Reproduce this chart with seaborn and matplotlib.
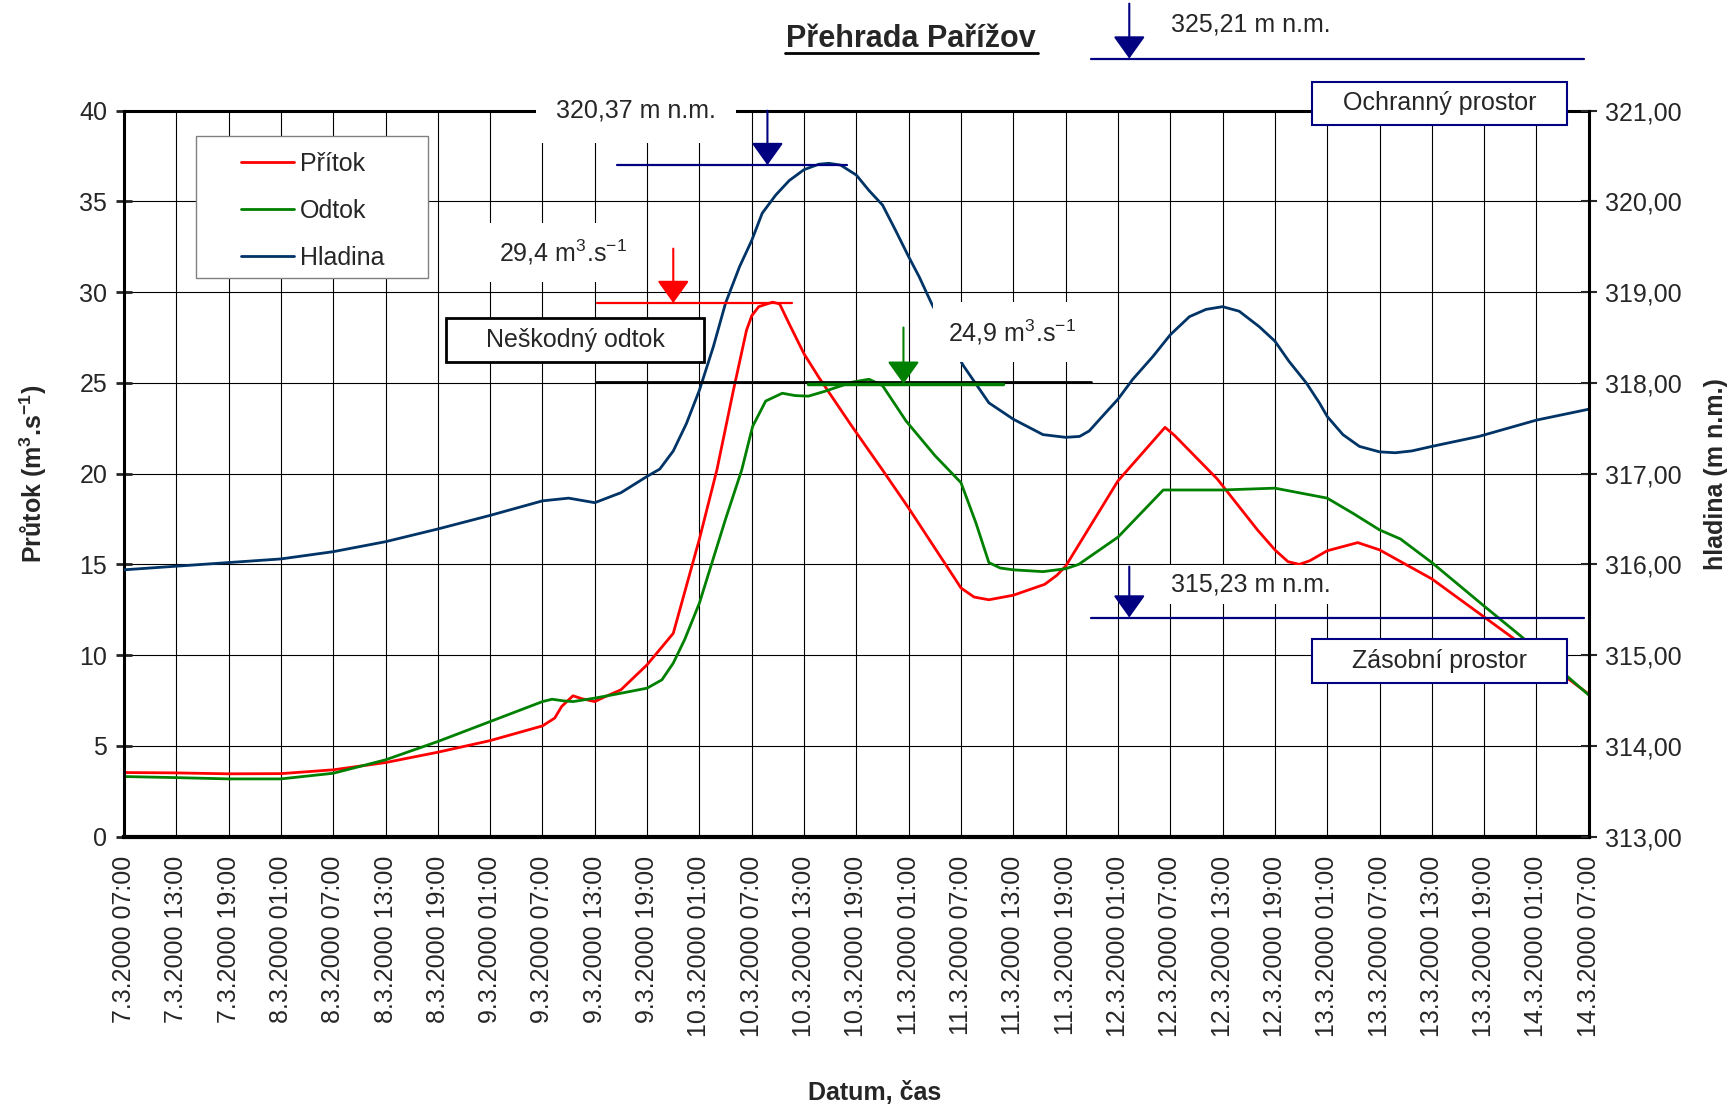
import numpy as np
import pandas as pd
import seaborn as sns
import matplotlib.pyplot as plt
from matplotlib.lines import Line2D
from matplotlib.patches import Rectangle

# time axis: hours since 7.3.2000 07:00
pritok_h = [0, 6, 12, 18, 24, 30, 36, 42, 48, 49.4, 50.2, 51.5, 52.5, 54, 55, 57, 60, 63, 66, 68,
            69.9, 71.4, 72, 72.8, 74.4, 75.2, 76.3, 78, 79.7, 83.5, 87, 90, 93, 96, 97.5, 99.2, 102,
            105.6, 107, 108, 114, 119.4, 120.5, 125.4, 130, 132, 133.5, 134.8, 136, 138, 141.5, 144,
            150, 156, 162, 168]
pritok_q = [3.53, 3.51, 3.46, 3.47, 3.68, 4.08, 4.65, 5.29, 6.10, 6.53, 7.17, 7.76, 7.60, 7.44, 7.67,
            8.09, 9.47, 11.2, 16.4, 20.2, 24.6, 27.9, 28.7, 29.2, 29.45, 29.35, 28.25, 26.6, 25.3,
            22.6, 20.2, 18.1, 15.9, 13.7, 13.2, 13.05, 13.3, 13.9, 14.4, 14.9, 19.6, 22.55, 22.1,
            19.7, 16.9, 15.8, 15.15, 15.0, 15.2, 15.75, 16.2, 15.8, 14.2, 12.1, 10.0, 7.85]

odtok_h = [0, 6, 12, 18, 24, 30, 36, 42, 48, 49.1, 50.4, 51.5, 54, 57, 60, 61.7, 63, 64.3, 66, 69,
           70.85, 72.1, 73.6, 75.5, 77, 78.5, 80.4, 83.5, 85.45, 87, 89.7, 93, 96, 97.7, 99.2, 100.5,
           102, 105.4, 108, 109.5, 114, 119.2, 126, 132, 138, 141, 144, 146.4, 150, 156, 160.2, 168]
odtok_q = [3.31, 3.25, 3.18, 3.18, 3.49, 4.23, 5.24, 6.34, 7.44, 7.57, 7.48, 7.44, 7.63, 7.9, 8.18,
           8.64, 9.56, 10.85, 12.87, 17.5, 20.2, 22.6, 24.0, 24.43, 24.3, 24.27, 24.54, 25.04, 25.2,
           24.85, 22.9, 21.0, 19.5, 17.3, 15.1, 14.8, 14.7, 14.6, 14.76, 15.0, 16.5, 19.1, 19.1, 19.2,
           18.65, 17.8, 16.9, 16.4, 15.1, 12.7, 11.05, 7.8]

hladina_h = [0, 6, 12, 18, 24, 30, 36, 42, 48, 51, 54, 57, 60, 61.45, 63, 64.5, 66, 67.6, 69, 70.6,
             72, 73.2, 74.75, 76.3, 78, 79.7, 80.85, 82.2, 84, 85.45, 87, 88.5, 90, 91.2, 92.6, 96.2,
             99.2, 102, 105.4, 108, 109.6, 110.7, 112.2, 114, 115.7, 118, 120, 122.2, 124.1, 126,
             127.9, 130.2, 132, 133.6, 135.6, 137.1, 138, 139.8, 141.7, 144, 145.8, 147.7, 150,
             155.4, 162, 168]
hladina_z = [315.94, 315.98, 316.02, 316.06, 316.14, 316.25, 316.39, 316.54, 316.70, 316.73, 316.68,
             316.79, 316.97, 317.05, 317.25, 317.55, 317.92, 318.40, 318.88, 319.28, 319.57, 319.87,
             320.07, 320.23, 320.35, 320.41, 320.42, 320.40, 320.29, 320.12, 319.96, 319.68, 319.39,
             319.17, 318.88, 318.20, 317.78, 317.60, 317.43, 317.40, 317.41, 317.47, 317.63, 317.82,
             318.04, 318.29, 318.53, 318.73, 318.81, 318.84, 318.79, 318.62, 318.46, 318.24, 318.00,
             317.78, 317.63, 317.43, 317.30, 317.24, 317.23, 317.25, 317.30, 317.41, 317.59, 317.71]

tick_hours = list(range(0, 169, 6))
tick_labels = ["7.3.2000 07:00", "7.3.2000 13:00", "7.3.2000 19:00", "8.3.2000 01:00",
               "8.3.2000 07:00", "8.3.2000 13:00", "8.3.2000 19:00", "9.3.2000 01:00",
               "9.3.2000 07:00", "9.3.2000 13:00", "9.3.2000 19:00", "10.3.2000 01:00",
               "10.3.2000 07:00", "10.3.2000 13:00", "10.3.2000 19:00", "11.3.2000 01:00",
               "11.3.2000 07:00", "11.3.2000 13:00", "11.3.2000 19:00", "12.3.2000 01:00",
               "12.3.2000 07:00", "12.3.2000 13:00", "12.3.2000 19:00", "13.3.2000 01:00",
               "13.3.2000 07:00", "13.3.2000 13:00", "13.3.2000 19:00", "14.3.2000 01:00",
               "14.3.2000 07:00"]
left_ticks = [0, 5, 10, 15, 20, 25, 30, 35, 40]
right_ticks = [313, 314, 315, 316, 317, 318, 319, 320, 321]

sns.set_style("white")
plt.rcParams['font.family'] = ['Liberation Sans', 'DejaVu Sans']
plt.rcParams['mathtext.fontset'] = 'custom'
plt.rcParams['mathtext.rm'] = 'Liberation Sans'
plt.rcParams['mathtext.bf'] = 'Liberation Sans:bold'
plt.rcParams['mathtext.default'] = 'regular'

FS = 18
RED = '#ff0000'
GREEN = '#008000'
BLUE = '#003366'
NAVY = '#000080'

df_p = pd.DataFrame({'h': pritok_h, 'q': pritok_q})
df_o = pd.DataFrame({'h': odtok_h, 'q': odtok_q})
df_z = pd.DataFrame({'h': hladina_h, 'z': hladina_z})

fig = plt.figure(figsize=(17.36, 11.10), dpi=100)
ax = fig.add_axes([0.0714, 0.2463, 0.8438, 0.6540])
ax2 = ax.twinx()

sns.lineplot(data=df_p, x='h', y='q', ax=ax, color=RED, lw=2)
sns.lineplot(data=df_o, x='h', y='q', ax=ax, color=GREEN, lw=2)
sns.lineplot(data=df_z, x='h', y='z', ax=ax2, color=BLUE, lw=2)

ax.set_xlim(0, 168)
ax.set_ylim(0, 40)
ax2.set_ylim(313, 321)

ax.set_xticks(tick_hours)
ax.set_xticklabels(tick_labels, rotation=90, fontsize=FS)
ax.set_yticks(left_ticks)
ax.set_yticklabels([str(v) for v in left_ticks], fontsize=FS)
ax2.set_yticks(right_ticks)
ax2.set_yticklabels([f"{v:.2f}".replace('.', ',') for v in right_ticks], fontsize=FS)
ax.grid(True, color='black', lw=0.8)

ax.tick_params(axis='both', direction='inout', length=12, width=2, pad=6)
ax.tick_params(axis='x', pad=8)
ax2.tick_params(axis='y', direction='inout', length=12, width=1.5, pad=6)

for s in ['left', 'top']:
    ax.spines[s].set_linewidth(2.2)
ax.spines['bottom'].set_linewidth(3)
ax.spines['right'].set_visible(False)
for s in ['left', 'top', 'bottom']:
    ax2.spines[s].set_visible(False)
ax2.spines['right'].set_linewidth(2.2)
for s in ax.spines.values():
    s.set_color('black')
ax2.spines['right'].set_color('black')

ax.set_xlabel('')
ax.set_ylabel('Průtok (m$^3$.s$^{-1}$)', fontsize=FS, fontweight='bold')
ax.yaxis.set_label_coords(-0.0515, 0.5)
ax2.set_ylabel('hladina (m n.m.)', fontsize=FS, fontweight='bold')
ax2.yaxis.set_label_coords(1.0786, 0.5)
fig.text(0.5040, 0.015, 'Datum, čas', fontsize=FS, fontweight='bold', ha='center', va='center')

T = ax.transData

# title
ax2.text(90.2, 43.96, 'Přehrada Pařížov', transform=T, fontsize=22, fontweight='bold',
         ha='center', va='center', clip_on=False)
ax2.plot([75.8, 104.8], [43.2, 43.2], transform=T, color='black', lw=2, clip_on=False)


def level_line(x0, x1, y, color, lw=1.6):
    ax2.plot([x0, x1], [y, y], transform=T, color=color, lw=lw, clip_on=False, zorder=3)


def arrow_down(x, y0, y1, color):
    ax2.annotate('', xy=(x, y1), xytext=(x, y0), xycoords=T, textcoords=T,
                 arrowprops=dict(arrowstyle='-|>,head_length=0.7,head_width=0.5', color=color,
                                 lw=1.5, mutation_scale=20, shrinkA=0, shrinkB=0),
                 annotation_clip=False, zorder=4)


def label(x, y, s, ha='center', pad=0.5):
    ax2.text(x, y, s, transform=T, fontsize=FS, ha=ha, va='center', clip_on=False, zorder=5,
             bbox=dict(boxstyle=f'square,pad={pad}', fc='white', ec='none'))


def box(x0, x1, y0, y1, s, ec, lw):
    ax2.add_patch(Rectangle((x0, y0), x1 - x0, y1 - y0, transform=T, fc='white', ec=ec, lw=lw,
                            clip_on=False, zorder=5))
    ax2.text((x0 + x1) / 2, (y0 + y1) / 2, s, transform=T, fontsize=FS, ha='center',
             va='center', clip_on=False, zorder=6)


# maximal level 325,21
level_line(110.9, 167.4, 42.87, NAVY)
arrow_down(115.3, 45.9, 42.87, NAVY)
label(120.1, 44.76, '325,21 m n.m.', ha='left', pad=0.2)
box(136.25, 165.46, 39.2, 41.59, 'Ochranný prostor', NAVY, 1.5)

# max reached level 320,37
label(58.7, 40.0, '320,37 m n.m.', pad=0.8)
level_line(56.5, 82.9, 37.0, NAVY)
arrow_down(73.8, 40.0, 37.0, NAVY)

# max inflow 29,4
label(50.4, 32.2, '29,4 m$^3$.s$^{-1}$', pad=0.6)
level_line(54.3, 76.6, 29.4, RED)
arrow_down(63.0, 32.4, 29.4, RED)

# harmless outflow 25
box(36.95, 66.54, 26.16, 28.6, 'Neškodný odtok', 'black', 2)
level_line(54.1, 110.9, 25.05, 'black', lw=2)
level_line(78.5, 100.8, 24.92, GREEN, lw=2.5)
arrow_down(89.4, 28.05, 24.95, GREEN)
label(101.8, 27.8, '24,9 m$^3$.s$^{-1}$', pad=0.6)

# storage level 315,23
label(120.1, 13.9, '315,23 m n.m.', ha='left', pad=0.3)
level_line(110.9, 167.4, 12.07, NAVY)
arrow_down(115.3, 14.88, 12.07, NAVY)
box(136.25, 165.46, 8.48, 10.91, 'Zásobní prostor', NAVY, 1.5)

# legend
if ax.get_legend() is not None:
    ax.get_legend().remove()
ax2.add_patch(Rectangle((0.0491, 0.7698), 0.1588, 0.1952, transform=ax.transAxes, fc='white',
                        ec='#808080', lw=1, zorder=6, clip_on=False))
handles = [Line2D([], [], color=RED, lw=2), Line2D([], [], color=GREEN, lw=2),
           Line2D([], [], color=BLUE, lw=2)]
leg = ax2.legend(handles, ['Přítok', 'Odtok', 'Hladina'], loc='upper left',
                 bbox_to_anchor=(0.0801, 0.943), bbox_transform=ax.transAxes, frameon=False,
                 borderpad=0, borderaxespad=0, handlelength=2.1, handletextpad=0.25,
                 labelspacing=0.91, fontsize=FS)
leg.set_zorder(7)

fig.savefig('out.png', dpi=100)
